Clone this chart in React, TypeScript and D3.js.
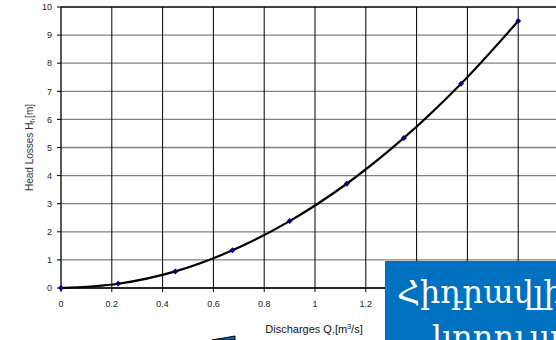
import React from "react";
import * as d3 from "d3";

const discharges = [0, 0.225, 0.45, 0.675, 0.9, 1.125, 1.35, 1.575, 1.8];
const headLosses = [0, 0.15, 0.59, 1.34, 2.38, 3.71, 5.34, 7.27, 9.5];
const xTicks = [0, 0.2, 0.4, 0.6, 0.8, 1, 1.2, 1.4, 1.6, 1.8, 2];
const yTicks = [0, 1, 2, 3, 4, 5, 6, 7, 8, 9, 10];
const xTickLabels = ["0", "0.2", "0.4", "0.6", "0.8", "1", "1.2"];
const bannerLines = ["Հիդրավլիկական", "կորուստներ"];

const W = 556;
const H = 340;

export default function App() {
  const x = d3.scaleLinear().domain([0, 2]).range([61, 569]);
  const y = d3.scaleLinear().domain([0, 10]).range([288, 7]);
  const pts = discharges.map((q, i) => [x(q), y(headLosses[i])] as [number, number]);
  const line = d3.line().curve(d3.curveCatmullRom.alpha(0.5))(pts) || "";
  const font = "'Liberation Sans', Arial, sans-serif";

  return (
    <svg
      width={W}
      height={H}
      style={{ position: "absolute", left: 0, top: 0, background: "#fff" }}
      fontFamily={font}
    >
      {yTicks.map((t) => (
        <line key={"h" + t} x1={61} x2={W} y1={y(t)} y2={y(t)} stroke={t === 10 ? "#000" : "#808080"} strokeWidth={1.3} />
      ))}
      {xTicks.slice(1).map((t) => (
        <line key={"v" + t} x1={x(t)} x2={x(t)} y1={y(10)} y2={y(0)} stroke="#000" strokeWidth={1} />
      ))}
      <line x1={61} x2={61} y1={y(10)} y2={y(0)} stroke="#000" strokeWidth={1.3} />
      <line x1={61} x2={W} y1={y(0)} y2={y(0)} stroke="#000" strokeWidth={1.3} />
      {yTicks.map((t) => (
        <line key={"yt" + t} x1={57} x2={61} y1={y(t)} y2={y(t)} stroke="#000" />
      ))}
      {xTicks.map((t) => (
        <line key={"xt" + t} x1={x(t)} x2={x(t)} y1={y(0)} y2={y(0) + 4} stroke="#000" />
      ))}
      {yTicks.map((t) => (
        <text key={"yl" + t} x={52} y={y(t) + 3.2} fontSize={9} textAnchor="end" fill="#222">
          {t}
        </text>
      ))}
      {xTickLabels.map((s) => (
        <text key={"xl" + s} x={x(+s)} y={307} fontSize={9} textAnchor="middle" fill="#222">
          {s}
        </text>
      ))}
      <text x={314} y={333} fontSize={11} textAnchor="middle" fill="#111">
        Discharges Q,[m<tspan dy={-4} fontSize={7}>3</tspan>
        <tspan dy={4}>/s]</tspan>
      </text>
      <text
        transform={`translate(33,${y(5)}) rotate(-90)`}
        fontSize={10}
        textAnchor="middle"
        fill="#333"
      >
        Head Losses H<tspan dy={2} fontSize={7}>f</tspan>
        <tspan dy={-2}>,[m]</tspan>
      </text>
      <path d={line} fill="none" stroke="#000" strokeWidth={2.2} />
      {pts.map((p, i) => (
        <path
          key={"m" + i}
          d={`M${p[0]},${p[1] - 3}L${p[0] + 3},${p[1]}L${p[0]},${p[1] + 3}L${p[0] - 3},${p[1]}Z`}
          fill="#000080"
        />
      ))}
      <path d="M212,340 L235,336 L235,340 Z" fill="#0070C0" stroke="#000" strokeWidth={1} />
      <rect x={385} y={261} width={W - 385} height={H - 261} fill="#0070C0" />
      <text x={397} y={303} fontSize={32} fill="#fff" fontFamily="'DejaVu Serif', serif">
        {bannerLines[0]}
      </text>
      <text x={432} y={348} fontSize={32} fill="#fff" fontFamily="'DejaVu Serif', serif">
        {bannerLines[1]}
      </text>
    </svg>
  );
}
